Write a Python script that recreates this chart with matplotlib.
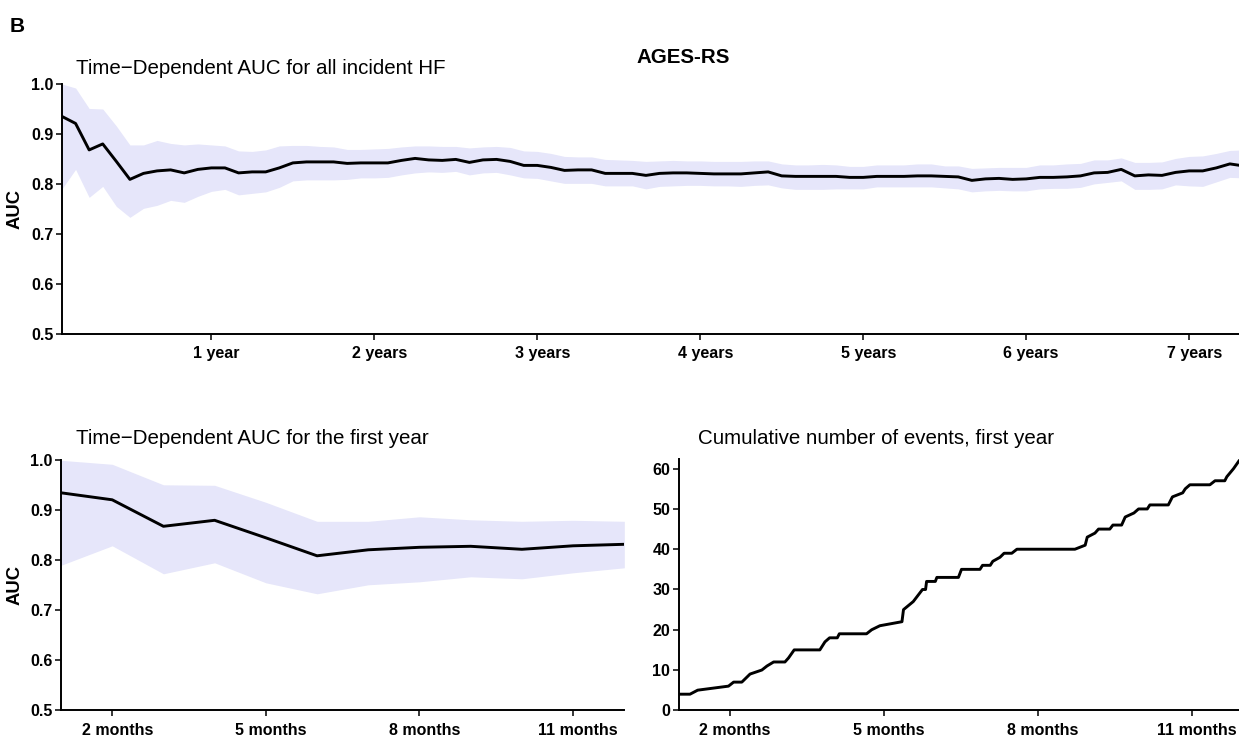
import numpy as np
import matplotlib
matplotlib.use("Agg")
from matplotlib import pyplot as plt
from matplotlib import transforms

plt.rcParams['font.family'] = ['Liberation Sans', 'DejaVu Sans']

# time-dependent AUC, one value per month (month 1 .. 88)
months = np.arange(1, 89)
auc = [0.935, 0.921, 0.868, 0.880, 0.845, 0.809, 0.821, 0.826, 0.828, 0.822, 0.829, 0.832,
       0.832, 0.822, 0.824, 0.824, 0.832, 0.842, 0.844, 0.844, 0.844, 0.841, 0.842, 0.842,
       0.842, 0.847, 0.851, 0.848, 0.847, 0.849, 0.843, 0.848, 0.849, 0.845, 0.837, 0.837,
       0.833, 0.827, 0.828, 0.828, 0.821, 0.821, 0.821, 0.817, 0.821, 0.822, 0.822, 0.821,
       0.820, 0.820, 0.820, 0.822, 0.824, 0.816, 0.815, 0.815, 0.815, 0.815, 0.813, 0.813,
       0.815, 0.815, 0.815, 0.816, 0.816, 0.815, 0.814, 0.807, 0.810, 0.811, 0.809, 0.810,
       0.813, 0.813, 0.814, 0.816, 0.822, 0.823, 0.829, 0.816, 0.818, 0.817, 0.823, 0.826,
       0.826, 0.832, 0.840, 0.836]
auc_upper = [1.000, 0.992, 0.951, 0.950, 0.916, 0.878, 0.878, 0.887, 0.881, 0.878, 0.880, 0.878,
             0.876, 0.866, 0.865, 0.868, 0.876, 0.877, 0.877, 0.875, 0.874, 0.869, 0.869, 0.870,
             0.871, 0.874, 0.876, 0.876, 0.875, 0.875, 0.872, 0.874, 0.875, 0.873, 0.866, 0.865,
             0.861, 0.855, 0.854, 0.854, 0.849, 0.848, 0.847, 0.845, 0.846, 0.847, 0.846, 0.846,
             0.845, 0.845, 0.845, 0.846, 0.846, 0.840, 0.838, 0.838, 0.839, 0.838, 0.835, 0.835,
             0.838, 0.838, 0.838, 0.840, 0.840, 0.836, 0.836, 0.831, 0.832, 0.833, 0.833, 0.833,
             0.838, 0.838, 0.840, 0.841, 0.848, 0.848, 0.852, 0.843, 0.843, 0.844, 0.851, 0.855,
             0.856, 0.861, 0.867, 0.868]
auc_lower = [0.790, 0.829, 0.773, 0.795, 0.755, 0.733, 0.751, 0.757, 0.767, 0.763, 0.775, 0.785,
             0.789, 0.778, 0.781, 0.784, 0.793, 0.806, 0.808, 0.808, 0.808, 0.809, 0.812, 0.812,
             0.813, 0.818, 0.822, 0.824, 0.823, 0.825, 0.818, 0.822, 0.823, 0.818, 0.812, 0.811,
             0.806, 0.801, 0.801, 0.801, 0.796, 0.796, 0.796, 0.790, 0.795, 0.796, 0.797, 0.797,
             0.796, 0.796, 0.795, 0.797, 0.798, 0.792, 0.789, 0.789, 0.789, 0.790, 0.790, 0.790,
             0.794, 0.794, 0.794, 0.794, 0.794, 0.792, 0.790, 0.784, 0.786, 0.787, 0.786, 0.786,
             0.790, 0.791, 0.791, 0.793, 0.800, 0.803, 0.806, 0.789, 0.789, 0.790, 0.798, 0.796,
             0.795, 0.804, 0.813, 0.812]

year_ticks = [12, 24, 36, 48, 60, 72, 84]
year_labels = ["1 year", "2 years", "3 years", "4 years", "5 years", "6 years", "7 years"]
month_ticks = [2, 5, 8, 11]
month_labels = ["2 months", "5 months", "8 months", "11 months"]

# cumulative number of events in the first year
ev_month = [1.00, 1.22, 1.37, 1.97, 2.07, 2.23, 2.39, 2.62, 2.72, 2.85, 3.07, 3.14, 3.25, 3.75,
            3.85, 3.94, 4.09, 4.13, 4.66, 4.76, 4.92, 5.35, 5.38, 5.57, 5.69, 5.75, 5.81, 5.83,
            6.00, 6.03, 6.45, 6.51, 6.87, 6.92, 7.07, 7.12, 7.26, 7.34, 7.49, 7.59, 8.72, 8.92,
            8.96, 9.11, 9.18, 9.40, 9.46, 9.63, 9.70, 9.87, 9.96, 10.13, 10.18, 10.54, 10.62,
            10.82, 10.87, 10.96, 11.35, 11.45, 11.64, 11.68, 11.81, 11.92, 12.00]
ev_count = [4, 4, 5, 6, 7, 7, 9, 10, 11, 12, 12, 13, 15, 15,
            17, 18, 18, 19, 19, 20, 21, 22, 25, 27, 29, 30, 30, 32,
            32, 33, 33, 35, 35, 36, 36, 37, 38, 39, 39, 40, 40, 41,
            43, 44, 45, 45, 46, 46, 48, 49, 50, 50, 51, 51, 53,
            54, 55, 56, 56, 57, 57, 58, 60, 62, 63]

W, H = 1239, 736
fig = plt.figure(figsize=(W / 100, H / 100), dpi=100)

band_col = "#e6e6fa"
# R puts the axis labels a little right of their ticks
shift = transforms.ScaledTranslation(5 / 100, 0, fig.dpi_scale_trans)


def style(ax):
    for s in ["top", "right"]:
        ax.spines[s].set_visible(False)
    for s in ["left", "bottom"]:
        ax.spines[s].set_linewidth(1.4)
    ax.tick_params(direction="out", length=4, width=1.1, colors="black")
    ax.tick_params(axis="x", pad=5)
    ax.tick_params(axis="y", pad=2)
    for lab in ax.get_xticklabels() + ax.get_yticklabels():
        lab.set_fontsize(11.5)
        lab.set_fontweight("bold")
    for lab in ax.get_xticklabels():
        lab.set_transform(lab.get_transform() + shift)


def box(x0, x1, ytop, ybot):
    return [x0 / W, 1 - ybot / H, (x1 - x0) / W, (ybot - ytop) / H]


# top: whole follow-up
ax1 = fig.add_axes(box(62, 62 + 87 * 13.58, 84, 333.7))
ax1.fill_between(months, auc_lower, auc_upper, color=band_col, lw=0)
ax1.plot(months, auc, color="black", lw=2.1)
ax1.set_xlim(1, 88)
ax1.set_ylim(0.5, 1.0)
ax1.set_xticks(year_ticks)
ax1.set_xticklabels(year_labels)
ax1.set_yticks([0.5, 0.6, 0.7, 0.8, 0.9, 1.0])
ax1.set_yticklabels(["0.5", "0.6", "0.7", "0.8", "0.9", "1.0"])
style(ax1)

# bottom left: first year AUC
ax2 = fig.add_axes(box(61, 624.3, 460.3, 710.3))
ax2.fill_between(months[:12], auc_lower[:12], auc_upper[:12], color=band_col, lw=0)
ax2.plot(months[:12], auc[:12], color="black", lw=2.1)
ax2.set_xlim(1, 12)
ax2.set_ylim(0.5, 1.0)
ax2.set_xticks(month_ticks)
ax2.set_xticklabels(month_labels)
ax2.set_yticks([0.5, 0.6, 0.7, 0.8, 0.9, 1.0])
ax2.set_yticklabels(["0.5", "0.6", "0.7", "0.8", "0.9", "1.0"])
style(ax2)

# bottom right: cumulative events
ax3 = fig.add_axes(box(678.7, 627.3 + 51.33 * 12, 710.3 - 62.5 * 4.027, 710.3))
ax3.plot(ev_month, ev_count, color="black", lw=2.1)
ax3.set_xlim(1, 12)
ax3.set_ylim(0, 62.5)
ax3.set_xticks(month_ticks)
ax3.set_xticklabels(month_labels)
ax3.set_yticks([0, 10, 20, 30, 40, 50, 60])
style(ax3)

# texts
fig.text(10 / W, 1 - 31.7 / H, "B", fontsize=15, fontweight="bold", va="baseline")
fig.text(76 / W, 1 - 74 / H, "Time\u2212Dependent AUC for all incident HF", fontsize=14.8,
         va="baseline")
fig.text(683 / W, 1 - 63.3 / H, "AGES-RS", fontsize=14.8, fontweight="bold",
         ha="center", va="baseline")
fig.text(76 / W, 1 - 444 / H, "Time\u2212Dependent AUC for the first year", fontsize=14.8,
         va="baseline")
fig.text(698 / W, 1 - 444 / H, "Cumulative number of events, first year", fontsize=14.8,
         va="baseline")
fig.text(15 / W, 1 - 209 / H, "AUC", fontsize=13.3, fontweight="bold", rotation=90,
         ha="center", va="center")
fig.text(15 / W, 1 - 585 / H, "AUC", fontsize=13.3, fontweight="bold", rotation=90,
         ha="center", va="center")

fig.savefig("out.png", dpi=100)
